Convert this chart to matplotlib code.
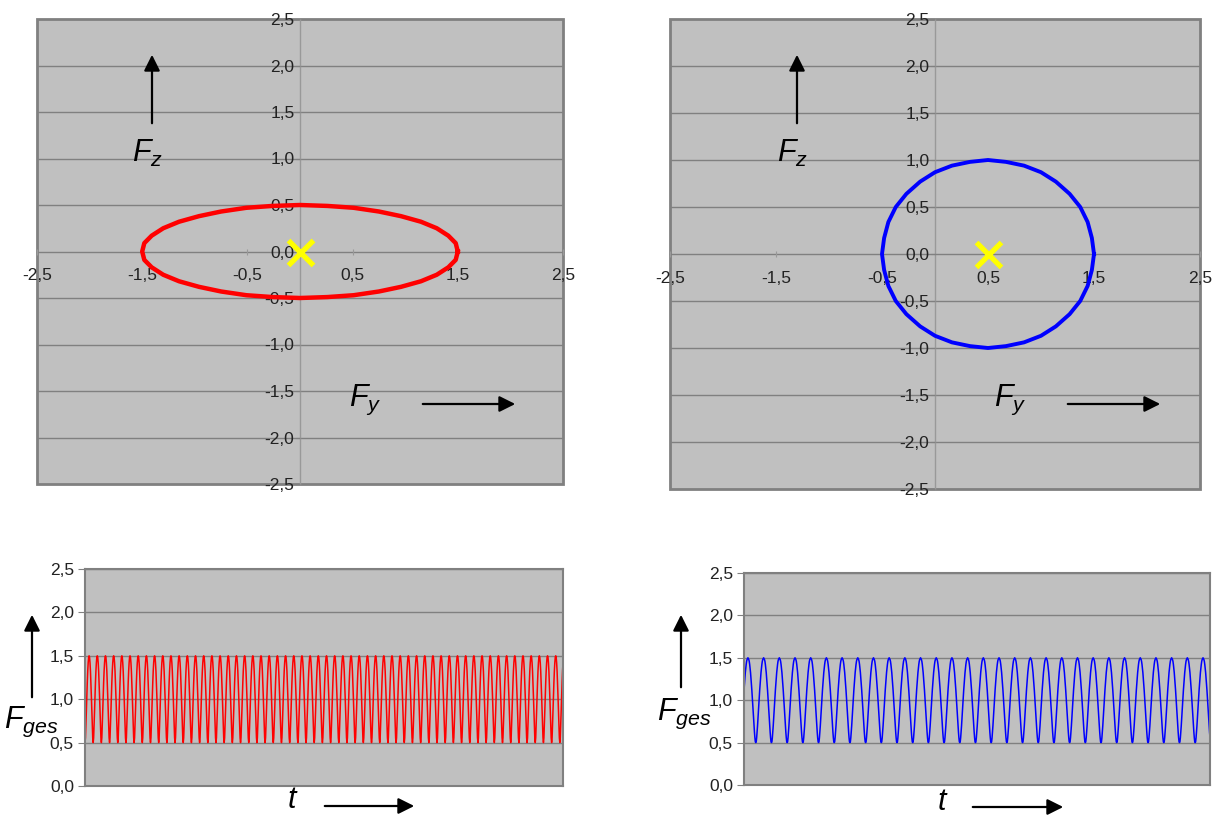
import numpy as np
import matplotlib
matplotlib.use('Agg')
import matplotlib.pyplot as plt
from matplotlib.ticker import FuncFormatter
from matplotlib.patches import Rectangle, FancyArrowPatch

plt.rcParams['font.family'] = ['Liberation Sans', 'DejaVu Sans']
plt.rcParams['mathtext.fontset'] = 'custom'
plt.rcParams['mathtext.it'] = 'Liberation Sans:italic'
plt.rcParams['mathtext.rm'] = 'Liberation Sans'

# force components over one revolution (10 deg steps)
ell_fy = [1.50, 1.48, 1.41, 1.30, 1.15, 0.96, 0.75, 0.51, 0.26, 0.00, -0.26, -0.51,
          -0.75, -0.96, -1.15, -1.30, -1.41, -1.48, -1.50, -1.48, -1.41, -1.30, -1.15, -0.96,
          -0.75, -0.51, -0.26, 0.00, 0.26, 0.51, 0.75, 0.96, 1.15, 1.30, 1.41, 1.48]
ell_fz = [0.00, 0.09, 0.17, 0.25, 0.32, 0.38, 0.43, 0.47, 0.49, 0.50, 0.49, 0.47,
          0.43, 0.38, 0.32, 0.25, 0.17, 0.09, 0.00, -0.09, -0.17, -0.25, -0.32, -0.38,
          -0.43, -0.47, -0.49, -0.50, -0.49, -0.47, -0.43, -0.38, -0.32, -0.25, -0.17, -0.09]
circ_fy = [1.50, 1.48, 1.44, 1.37, 1.27, 1.14, 1.00, 0.84, 0.67, 0.50, 0.33, 0.16,
           0.00, -0.14, -0.27, -0.37, -0.44, -0.48, -0.50, -0.48, -0.44, -0.37, -0.27, -0.14,
           0.00, 0.16, 0.33, 0.50, 0.67, 0.84, 1.00, 1.14, 1.27, 1.37, 1.44, 1.48]
circ_fz = [0.00, 0.17, 0.34, 0.50, 0.64, 0.77, 0.87, 0.94, 0.98, 1.00, 0.98, 0.94,
           0.87, 0.77, 0.64, 0.50, 0.34, 0.17, 0.00, -0.17, -0.34, -0.50, -0.64, -0.77,
           -0.87, -0.94, -0.98, -1.00, -0.98, -0.94, -0.87, -0.77, -0.64, -0.50, -0.34, -0.17]
ell_center = (0.0, 0.0)
circ_center = (0.5, 0.0)

# time series: |F| over 30 revolutions (start sample and length of the plotted window)
n_rev = 30
red_start, red_len = 9, 1052
blue_start, blue_len = 27, 1070

top_yticks = [-2.5, -2.0, -1.5, -1.0, -0.5, 0.0, 0.5, 1.0, 1.5, 2.0, 2.5]
top_xticks = [-2.5, -1.5, -0.5, 0.5, 1.5, 2.5]
bot_yticks = [0.0, 0.5, 1.0, 1.5, 2.0, 2.5]

BG = '#c0c0c0'
GRID = '#808080'
TXT = '#222222'
W, H = 1215, 817

comma = FuncFormatter(lambda v, p: f'{v:.1f}'.replace('.', ','))

fig = plt.figure(figsize=(12.15, 8.17), dpi=100)


def px_axes(l, t, r, b):
    return fig.add_axes([l / W, 1 - b / H, (r - l) / W, (b - t) / H])


def fig_pt(x, y):
    return (x / W, 1 - y / H)


def arrow(x0, y0, x1, y1):
    fig.add_artist(FancyArrowPatch(
        fig_pt(x0, y0), fig_pt(x1, y1), transform=fig.transFigure,
        arrowstyle='-|>', mutation_scale=24, lw=1.6, color='k'))


def label(x, y, s):
    fig.text(*fig_pt(x, y), s, fontsize=22, ha='center', va='center', color='k')


def top_panel(ax, fy, fz, center, color, lw):
    ax.set_facecolor(BG)
    ax.set_xlim(-2.5, 2.5)
    ax.set_ylim(-2.5, 2.5)
    for s in ['top', 'right']:
        ax.spines[s].set_visible(False)
    ax.spines['left'].set_position(('data', 0))
    ax.spines['bottom'].set_position(('data', 0))
    ax.spines['left'].set_color('#999999')
    ax.spines['bottom'].set_color(GRID)
    ax.spines['left'].set_linewidth(1)
    ax.spines['bottom'].set_linewidth(1)
    ax.set_yticks(top_yticks)
    ax.set_xticks(top_xticks)
    ax.yaxis.set_major_formatter(comma)
    ax.xaxis.set_major_formatter(comma)
    ax.tick_params(axis='y', length=3, direction='out', color=GRID,
                   labelsize=12.5, labelcolor=TXT, pad=1)
    ax.tick_params(axis='x', length=4, direction='inout', color='#999999',
                   labelsize=12.5, labelcolor=TXT, pad=10)
    ax.set_axisbelow(False)
    # gridlines below the frame, tick labels above it
    for v in top_yticks[1:-1]:
        if v != 0:
            ax.axhline(v, color=GRID, lw=1, zorder=1)
    ax.add_patch(Rectangle((0, 0), 1, 1, transform=ax.transAxes, fill=False,
                           edgecolor=GRID, lw=2, clip_on=False, zorder=2))
    ax.plot(list(fy) + [fy[0]], list(fz) + [fz[0]], color=color, lw=lw, zorder=3)
    ax.plot(*center, marker='x', markersize=18, markeredgewidth=3.8,
            color='#ffff00', zorder=4)


def bottom_panel(ax, series, color):
    ax.set_facecolor(BG)
    ax.plot(np.arange(len(series)), series, color=color, lw=1.1)
    ax.set_xlim(0, len(series) - 1)
    ax.set_ylim(0, 2.5)
    ax.set_yticks(bot_yticks)
    ax.yaxis.set_major_formatter(comma)
    ax.set_xticks([])
    ax.tick_params(axis='y', length=5, color=GRID, labelsize=12.5,
                   labelcolor=TXT, pad=3)
    ax.yaxis.grid(True, color=GRID, lw=1)
    ax.set_axisbelow(True)
    for s in ax.spines.values():
        s.set_color(GRID)
        s.set_linewidth(1.5)


def fges(fy, fz, start, length):
    one = np.hypot(np.array(fy), np.array(fz))
    full = np.tile(one, n_rev + 1)
    return full[start:start + length]


ax1 = px_axes(37, 19, 563, 484)
top_panel(ax1, ell_fy, ell_fz, ell_center, '#ff0000', 3.2)
ax2 = px_axes(670, 19, 1200, 489)
top_panel(ax2, circ_fy, circ_fz, circ_center, '#0000ff', 2.8)

ax3 = px_axes(85, 569, 563, 786)
bottom_panel(ax3, fges(ell_fy, ell_fz, red_start, red_len), '#ff0000')
ax4 = px_axes(744, 573, 1210, 785)
bottom_panel(ax4, fges(circ_fy, circ_fz, blue_start, blue_len), '#0000ff')

# axis annotations
arrow(152, 126, 152, 52)
label(148, 153, r'$F_z$')
label(365, 400, r'$F_y$')
arrow(420, 404, 518, 404)

arrow(797, 126, 797, 52)
label(793, 153, r'$F_z$')
label(1010, 400, r'$F_y$')
arrow(1065, 404, 1163, 404)

arrow(32, 700, 32, 612)
label(31, 722, r'$F_{ges}$')
label(293, 800, r'$t$')
arrow(322, 806, 417, 806)

arrow(681, 690, 681, 612)
label(684, 714, r'$F_{ges}$')
label(943, 802, r'$t$')
arrow(970, 807, 1066, 807)

fig.savefig('out.png', dpi=100)
